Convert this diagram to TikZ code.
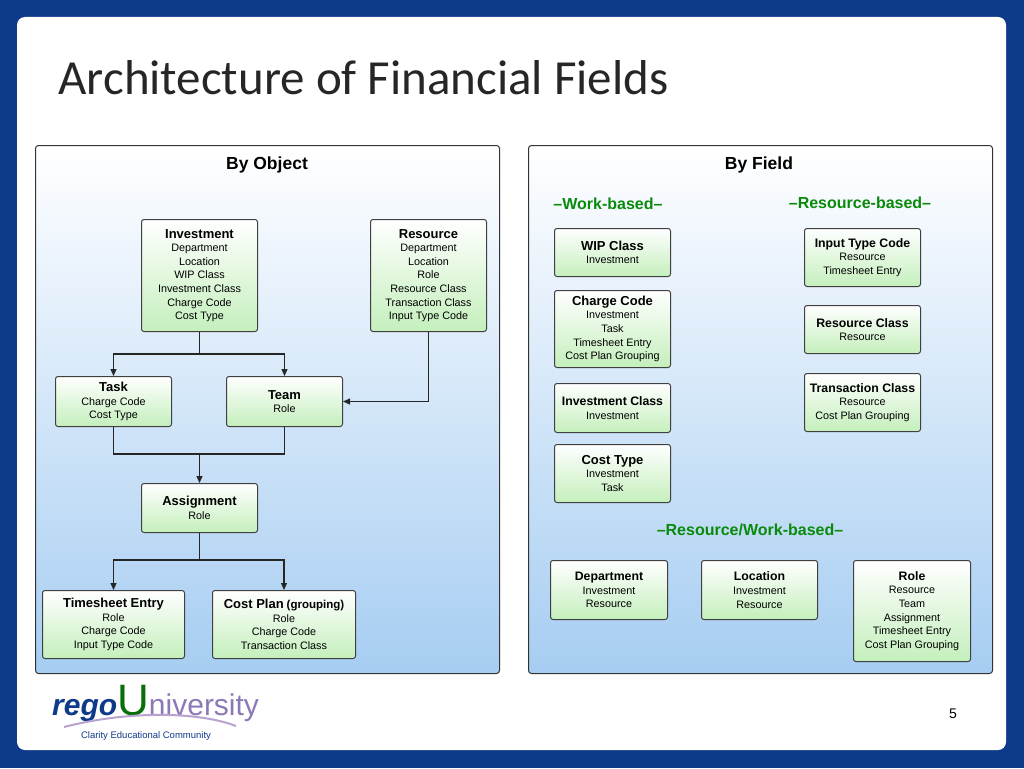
\documentclass[tikz,border=0pt]{standalone}
\usepackage{fontspec}
\setmainfont{Liberation Sans}
\newfontfamily\titlefont{Carlito}
\usetikzlibrary{arrows.meta}
\definecolor{navy}{HTML}{0E3A8A}
\definecolor{boxgreen}{HTML}{C4EFBC}
\definecolor{panelblue}{HTML}{A6CDF2}
\definecolor{hdrgreen}{HTML}{0A8A0A}
\tikzset{
 box/.style={draw=black!75, line width=1pt, rounded corners=2.5pt, top color=white, bottom color=boxgreen, anchor=north west, align=center, inner sep=2pt, font=\fontsize{10.8}{13.6}\selectfont},
 panel/.style={draw=black!80, line width=1pt, rounded corners=3pt, top color=white, bottom color=panelblue},
 conn/.style={line width=1.2pt, black!85},
 arr/.style={conn, -{Triangle[length=7pt,width=6pt]}},
 hdr/.style={font=\fontsize{17.5}{20}\selectfont\bfseries},
 sub/.style={font=\fontsize{16}{19}\selectfont\bfseries, text=hdrgreen}
}
\newcommand{\bt}[1]{{\fontsize{13}{15.5}\selectfont\bfseries #1}}
\newcommand{\bs}[1]{{\fontsize{12.3}{15}\selectfont\bfseries #1}}
\begin{document}
\begin{tikzpicture}[x=1pt,y=-1pt]
\useasboundingbox (0,0) rectangle (1024,768);
\fill[navy] (0,0) rectangle (1024,768);
\fill[white, rounded corners=8pt] (17,17) rectangle (1006,750);
\node[anchor=west, font=\titlefont\fontsize{49}{54}\selectfont, text=black!85] (title) at (55,78) {Architecture of Financial Fields};
\node[panel, minimum width=464, minimum height=528, anchor=north west] (pl) at (35,145) {};
\node[panel, minimum width=464, minimum height=528, anchor=north west] (pr) at (528,145) {};
\node[hdr] (h1) at (267,165) {By Object};
\node[hdr] (h2) at (759,165) {By Field};
\node[sub] (s1) at (608,204) {--Work-based--};
\node[sub] (s2) at (860,203) {--Resource-based--};
\node[sub] (s3) at (750,530) {--Resource/Work-based--};
% left
\node[box, minimum width=116, minimum height=112] (inv) at (141,219) {\bt{Investment}\\Department\\Location\\WIP Class\\Investment Class\\Charge Code\\Cost Type};
\node[box, minimum width=116, minimum height=112] (res) at (370,219) {\bt{Resource}\\Department\\Location\\Role\\Resource Class\\Transaction Class\\Input Type Code};
\node[box, minimum width=116, minimum height=50] (task) at (55,376) {\bt{Task}\\Charge Code\\Cost Type};
\node[box, minimum width=116, minimum height=50] (team) at (226,376) {\bt{Team}\\Role};
\node[box, minimum width=116, minimum height=49] (asg) at (141,483) {\bt{Assignment}\\Role};
\node[box, minimum width=142, minimum height=68] (ts) at (42,590) {\bt{Timesheet Entry}\\Role\\Charge Code\\Input Type Code};
\node[box, minimum width=143, minimum height=68] (cp) at (212,590) {\bt{Cost Plan} {\fontsize{11.5}{14}\selectfont\bfseries(grouping)}\\Role\\Charge Code\\Transaction Class};
\coordinate (j1) at (inv.south |- 0,354);
\draw[conn] (inv.south) -- (j1);
\draw[arr] (j1) -| (task.north);
\draw[arr] (j1) -| (team.north);
\draw[arr] (res.south) |- (team.east);
\coordinate (j2) at (inv.south |- 0,454);
\draw[conn] (task.south) |- (j2);
\draw[conn] (team.south) |- (j2);
\draw[arr] (j2) -- (asg.north);
\coordinate (j3) at (asg.south |- 0,560);
\draw[conn] (asg.south) -- (j3);
\draw[arr] (j3) -| (ts.north);
\draw[arr] (j3) -| (cp.north);
% right
\node[box, minimum width=116, minimum height=48] (wip) at (554,228) {\bt{WIP Class}\\Investment};
\node[box, minimum width=116, minimum height=77] (cc) at (554,290) {\bt{Charge Code}\\Investment\\Task\\Timesheet Entry\\Cost Plan Grouping};
\node[box, minimum width=116, minimum height=49] (ic) at (554,383) {\bs{Investment Class}\\Investment};
\node[box, minimum width=116, minimum height=58] (ct) at (554,444) {\bt{Cost Type}\\Investment\\Task};
\node[box, minimum width=116, minimum height=58] (itc) at (804,228) {\bs{Input Type Code}\\Resource\\Timesheet Entry};
\node[box, minimum width=116, minimum height=48] (rc) at (804,305) {\bs{Resource Class}\\Resource};
\node[box, minimum width=116, minimum height=58] (tc) at (804,373) {\bs{Transaction Class}\\Resource\\Cost Plan Grouping};
\node[box, minimum width=117, minimum height=59] (dep) at (550,560) {\bs{Department}\\Investment\\Resource};
\node[box, minimum width=116, minimum height=59] (loc) at (701,560) {\bs{Location}\\Investment\\Resource};
\node[box, minimum width=117, minimum height=101] (role) at (853,560) {\bs{Role}\\Resource\\Team\\Assignment\\Timesheet Entry\\Cost Plan Grouping};
% logo
\node[anchor=west, inner sep=0] (logo) at (52,703) {\fontsize{30}{32}\selectfont\bfseries\itshape\textcolor{navy}{rego}\textcolor{hdrgreen!80!black}{\fontsize{44}{44}\selectfont\mdseries\upshape U}\textcolor{navy!55!violet!60}{\mdseries\upshape niversity}};
\draw[navy!45!violet!40, line width=2pt] (64,727) .. controls (130,710) and (200,712) .. (236,726);
\node[font=\fontsize{9.5}{11}\selectfont, text=navy] (clar) at (146,736) {Clarity Educational Community};
\node[font=\fontsize{14}{16}\selectfont] (pg) at (953,714) {5};
\end{tikzpicture}
\end{document}
